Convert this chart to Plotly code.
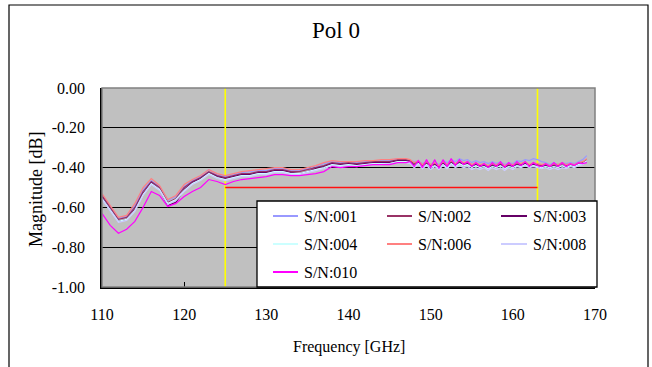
import plotly.graph_objects as go

# ---------------- data ----------------
freq = list(range(110, 148)) + [147.5 + 0.5 * i for i in range(44)]

sn001 = [-0.535,-0.595,-0.655,-0.645,-0.59,-0.51,-0.465,-0.495,-0.565,-0.545,-0.495,-0.465,-0.445,-0.41,-0.435,-0.445,-0.435,-0.425,-0.42,-0.415,-0.415,-0.405,-0.405,-0.415,-0.415,-0.405,-0.395,-0.38,-0.37,-0.375,-0.37,-0.375,-0.37,-0.365,-0.365,-0.365,-0.355,-0.36,
         -0.365,-0.37,-0.365,-0.38,-0.37,-0.385,-0.37,-0.385,-0.365,-0.375,-0.36,-0.37,-0.355,-0.365,-0.36,-0.375,-0.365,-0.375,-0.37,-0.38,-0.37,-0.38,-0.37,-0.385,-0.375,-0.38,-0.365,-0.37,-0.36,-0.365,-0.355,-0.36,-0.37,-0.375,-0.385,-0.375,-0.385,-0.375,-0.38,-0.375,-0.38,-0.37,-0.36,-0.34]
sn002 = [-0.54,-0.60,-0.66,-0.65,-0.60,-0.52,-0.47,-0.50,-0.575,-0.555,-0.50,-0.47,-0.45,-0.42,-0.44,-0.45,-0.44,-0.43,-0.43,-0.42,-0.42,-0.41,-0.41,-0.42,-0.42,-0.41,-0.40,-0.39,-0.375,-0.38,-0.375,-0.38,-0.375,-0.37,-0.37,-0.37,-0.36,-0.36,
         -0.365,-0.38,-0.37,-0.39,-0.375,-0.39,-0.38,-0.395,-0.375,-0.39,-0.37,-0.385,-0.37,-0.38,-0.375,-0.39,-0.38,-0.39,-0.385,-0.395,-0.385,-0.39,-0.38,-0.395,-0.385,-0.39,-0.38,-0.385,-0.375,-0.39,-0.38,-0.385,-0.39,-0.385,-0.395,-0.385,-0.39,-0.38,-0.39,-0.385,-0.39,-0.38,-0.375,-0.36]
sn003 = [-0.55,-0.61,-0.67,-0.66,-0.61,-0.53,-0.475,-0.51,-0.59,-0.575,-0.51,-0.475,-0.455,-0.425,-0.445,-0.455,-0.445,-0.435,-0.435,-0.425,-0.425,-0.415,-0.415,-0.425,-0.43,-0.42,-0.405,-0.395,-0.38,-0.385,-0.38,-0.385,-0.38,-0.375,-0.375,-0.375,-0.365,-0.365,
         -0.37,-0.39,-0.375,-0.40,-0.38,-0.405,-0.385,-0.40,-0.38,-0.395,-0.375,-0.39,-0.375,-0.385,-0.38,-0.395,-0.385,-0.395,-0.39,-0.40,-0.39,-0.395,-0.385,-0.40,-0.39,-0.395,-0.385,-0.39,-0.38,-0.39,-0.385,-0.39,-0.395,-0.39,-0.40,-0.39,-0.40,-0.39,-0.40,-0.39,-0.395,-0.385,-0.38,-0.37]
sn004 = [-0.555,-0.615,-0.67,-0.66,-0.615,-0.535,-0.48,-0.51,-0.58,-0.56,-0.515,-0.48,-0.46,-0.43,-0.45,-0.46,-0.45,-0.44,-0.44,-0.43,-0.43,-0.42,-0.42,-0.43,-0.43,-0.42,-0.41,-0.40,-0.385,-0.39,-0.385,-0.39,-0.385,-0.38,-0.38,-0.38,-0.37,-0.37,
         -0.375,-0.395,-0.38,-0.40,-0.385,-0.40,-0.39,-0.405,-0.385,-0.40,-0.38,-0.395,-0.38,-0.39,-0.385,-0.40,-0.39,-0.40,-0.395,-0.405,-0.395,-0.40,-0.39,-0.405,-0.395,-0.40,-0.39,-0.395,-0.385,-0.395,-0.39,-0.395,-0.40,-0.395,-0.40,-0.395,-0.40,-0.39,-0.40,-0.39,-0.395,-0.385,-0.38,-0.365]
sn006 = [-0.53,-0.59,-0.65,-0.64,-0.58,-0.50,-0.455,-0.49,-0.56,-0.54,-0.485,-0.46,-0.44,-0.41,-0.43,-0.44,-0.43,-0.42,-0.415,-0.41,-0.405,-0.40,-0.40,-0.41,-0.41,-0.40,-0.39,-0.375,-0.365,-0.37,-0.37,-0.37,-0.365,-0.365,-0.36,-0.36,-0.355,-0.355,
         -0.36,-0.375,-0.365,-0.385,-0.37,-0.385,-0.375,-0.39,-0.37,-0.385,-0.365,-0.38,-0.365,-0.375,-0.37,-0.385,-0.375,-0.385,-0.38,-0.39,-0.38,-0.385,-0.375,-0.39,-0.38,-0.385,-0.375,-0.38,-0.37,-0.385,-0.375,-0.38,-0.385,-0.38,-0.39,-0.38,-0.385,-0.375,-0.385,-0.38,-0.385,-0.375,-0.37,-0.355]
sn008 = [-0.56,-0.62,-0.675,-0.665,-0.62,-0.54,-0.485,-0.515,-0.585,-0.565,-0.52,-0.485,-0.465,-0.435,-0.455,-0.465,-0.455,-0.445,-0.445,-0.435,-0.435,-0.425,-0.425,-0.435,-0.435,-0.425,-0.415,-0.405,-0.39,-0.395,-0.39,-0.395,-0.39,-0.385,-0.385,-0.38,-0.375,-0.375,
         -0.38,-0.40,-0.385,-0.405,-0.39,-0.41,-0.395,-0.41,-0.39,-0.405,-0.385,-0.40,-0.39,-0.40,-0.395,-0.41,-0.40,-0.41,-0.40,-0.415,-0.40,-0.41,-0.40,-0.415,-0.40,-0.41,-0.395,-0.40,-0.39,-0.40,-0.395,-0.40,-0.405,-0.40,-0.41,-0.40,-0.41,-0.40,-0.405,-0.395,-0.40,-0.39,-0.385,-0.37]
sn010 = [-0.63,-0.69,-0.73,-0.71,-0.67,-0.60,-0.52,-0.54,-0.595,-0.58,-0.545,-0.52,-0.50,-0.46,-0.47,-0.485,-0.47,-0.46,-0.455,-0.45,-0.445,-0.435,-0.435,-0.44,-0.44,-0.435,-0.43,-0.42,-0.395,-0.40,-0.395,-0.395,-0.39,-0.385,-0.385,-0.385,-0.375,-0.375,
         -0.37,-0.395,-0.365,-0.40,-0.36,-0.40,-0.36,-0.405,-0.36,-0.395,-0.355,-0.39,-0.36,-0.385,-0.37,-0.395,-0.375,-0.395,-0.38,-0.40,-0.375,-0.395,-0.37,-0.40,-0.375,-0.395,-0.37,-0.39,-0.37,-0.395,-0.375,-0.39,-0.395,-0.38,-0.395,-0.375,-0.395,-0.375,-0.395,-0.38,-0.39,-0.375,-0.38,-0.375]

series_names = ["S/N:001", "S/N:002", "S/N:003", "S/N:004", "S/N:006", "S/N:008", "S/N:010"]
series_values = [sn001, sn002, sn003, sn004, sn006, sn008, sn010]
series_colors = ["#9999FF", "#993366", "#660066", "#CCFFFF", "#FF8080", "#CCCCFF", "#FF00FF"]

band_start = 125
band_end = 163
limit_value = -0.5

x_ticks = [110, 120, 130, 140, 150, 160, 170]
x_ticktext = ["110", "120", "130", "140", "150", "160", "170"]
y_ticks = [0, -0.2, -0.4, -0.6, -0.8, -1.0]
y_ticktext = ["0.00", "-0.20", "-0.40", "-0.60", "-0.80", "-1.00"]

# ---------------- layout geometry (pixels) ----------------
W, H = 652, 367
PL, PR, PT, PB = 102, 595, 88, 287
pw, ph = PR - PL, PB - PT


def px(x):
    return (x - PL) / pw


def py(y):
    return (PB - y) / ph


FONT = "Liberation Serif, Times New Roman, serif"

fig = go.Figure()

# marker lines (yellow) and limit line (red)
for xb in (band_start, band_end):
    fig.add_trace(go.Scatter(x=[xb, xb], y=[0, -1], mode="lines",
                             line=dict(color="#FFFF00", width=1.6),
                             showlegend=False, hoverinfo="skip"))
fig.add_trace(go.Scatter(x=[band_start, band_end], y=[limit_value, limit_value], mode="lines",
                         line=dict(color="#FF1010", width=1.5),
                         showlegend=False, hoverinfo="skip"))

for name, vals, col in zip(series_names, series_values, series_colors):
    fig.add_trace(go.Scatter(x=freq[:len(vals)], y=vals, mode="lines", name=name,
                             line=dict(color=col, width=1.2), showlegend=False))

shapes = []
annotations = []

# outer chart border
shapes.append(dict(type="rect", xref="paper", yref="paper",
                   x0=px(9), x1=px(648), y0=py(372), y1=py(5),
                   line=dict(color="black", width=1.2), layer="above"))
# plot area border (gray top/right)
shapes.append(dict(type="rect", xref="paper", yref="paper",
                   x0=0, x1=1, y0=0, y1=1,
                   line=dict(color="#808080", width=1.5), layer="above"))

# legend box
LX0, LX1, LY0, LY1 = 257, 597, 201, 287
shapes.append(dict(type="rect", xref="paper", yref="paper",
                   x0=px(LX0), x1=px(LX1), y0=py(LY1), y1=py(LY0),
                   fillcolor="white", line=dict(color="black", width=1.3), layer="above"))
col_line = [(273, 298), (387, 412), (501, 527)]
col_text = [302, 416, 531]
row_y = [216, 244, 272]
for i, (name, col) in enumerate(zip(series_names, series_colors)):
    r, c = divmod(i, 3)
    shapes.append(dict(type="line", xref="paper", yref="paper",
                       x0=px(col_line[c][0]), x1=px(col_line[c][1]),
                       y0=py(row_y[r]), y1=py(row_y[r]),
                       line=dict(color=col, width=2), layer="above"))
    annotations.append(dict(text=name, xref="paper", yref="paper",
                            x=px(col_text[c]), y=py(row_y[r]),
                            xanchor="left", yanchor="middle", showarrow=False,
                            font=dict(family=FONT, size=16, color="black")))

# axis titles
annotations.append(dict(text="Frequency [GHz]", xref="paper", yref="paper",
                        x=px(349), y=py(347), xanchor="center", yanchor="middle",
                        showarrow=False, font=dict(family=FONT, size=16, color="black")))
annotations.append(dict(text="Magnitude [dB]", xref="paper", yref="paper",
                        x=px(36), y=py(190), xanchor="center", yanchor="middle",
                        textangle=-90, showarrow=False,
                        font=dict(family=FONT, size=18, color="black")))

fig.update_layout(
    width=W, height=H,
    margin=dict(l=PL, r=W - PR, t=PT, b=H - PB, pad=0),
    paper_bgcolor="white",
    plot_bgcolor="#C0C0C0",
    showlegend=False,
    title=dict(text="Pol 0", x=336 / W, y=1 - 30 / H, xref="container", yref="container",
               xanchor="center", yanchor="middle",
               font=dict(family=FONT, size=23, color="black")),
    shapes=shapes,
    annotations=annotations,
    font=dict(family=FONT, size=16, color="black"),
)

fig.update_xaxes(range=[110, 170], tickvals=x_ticks, ticktext=x_ticktext,
                 showgrid=False, zeroline=False, showline=True, linecolor="black", linewidth=1.5,
                 ticks="inside", ticklen=5, tickcolor="black", tickwidth=1,
                 ticklabelstandoff=12,
                 tickfont=dict(family=FONT, size=16, color="black"))
fig.update_yaxes(range=[-1, 0], tickvals=y_ticks, ticktext=y_ticktext,
                 showgrid=True, gridcolor="black", gridwidth=1, zeroline=False,
                 showline=True, linecolor="black", linewidth=1.5,
                 ticks="inside", ticklen=5, tickcolor="black", tickwidth=1,
                 ticklabelstandoff=12,
                 tickfont=dict(family=FONT, size=16, color="black"))

fig.write_html("out.html")
